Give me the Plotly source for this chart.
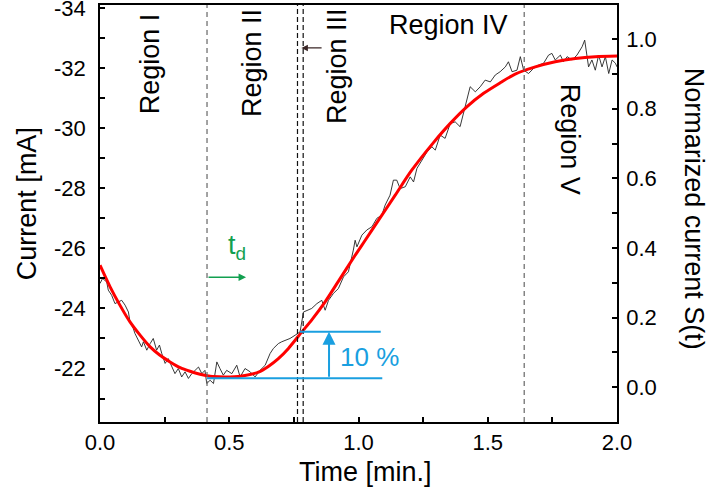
import plotly.graph_objects as go

# ---- data ----
fit_t = [0.000, 0.039, 0.077, 0.116, 0.155, 0.194, 0.232, 0.271, 0.310, 0.348, 0.387, 0.426,
         0.484, 0.503, 0.561, 0.613, 0.651, 0.690, 0.729, 0.781, 0.820, 0.871, 0.922, 0.987,
         1.026, 1.077, 1.142, 1.206, 1.290, 1.355, 1.419, 1.484, 1.548, 1.606, 1.684, 1.761,
         1.839, 1.916, 2.000]
fit_i = [-25.44, -24.72, -24.11, -23.55, -23.11, -22.72, -22.44, -22.22, -22.03, -21.91, -21.81, -21.74,
         -21.72, -21.72, -21.77, -21.88, -22.07, -22.33, -22.67, -23.22, -23.63, -24.22, -24.90, -25.77,
         -26.27, -26.93, -27.77, -28.60, -29.52, -30.16, -30.71, -31.16, -31.51, -31.80, -32.04, -32.21,
         -32.32, -32.38, -32.40]

meas_t = [0.000, 0.010, 0.026, 0.032, 0.045, 0.058, 0.071, 0.084, 0.097, 0.110, 0.116, 0.129,
          0.135, 0.148, 0.161, 0.168, 0.181, 0.194, 0.206, 0.219, 0.230, 0.239, 0.252, 0.264,
          0.277, 0.290, 0.303, 0.316, 0.329, 0.342, 0.355, 0.368, 0.381, 0.394, 0.406, 0.413,
          0.426, 0.439, 0.452, 0.464, 0.477, 0.490, 0.510, 0.529, 0.542, 0.561, 0.581, 0.600,
          0.619, 0.639, 0.658, 0.671, 0.690, 0.703, 0.716, 0.735, 0.755, 0.774, 0.787, 0.800,
          0.819, 0.839, 0.858, 0.871, 0.884, 0.903, 0.922, 0.942, 0.961, 0.980, 0.987, 0.994,
          1.013, 1.032, 1.052, 1.071, 1.090, 1.103, 1.122, 1.135, 1.148, 1.161, 1.181, 1.200,
          1.213, 1.226, 1.245, 1.265, 1.284, 1.297, 1.316, 1.335, 1.355, 1.374, 1.393, 1.413,
          1.432, 1.452, 1.471, 1.490, 1.510, 1.529, 1.548, 1.568, 1.580, 1.594, 1.613, 1.626,
          1.639, 1.658, 1.677, 1.697, 1.716, 1.735, 1.748, 1.761, 1.781, 1.793, 1.807, 1.826,
          1.845, 1.865, 1.875, 1.890, 1.903, 1.916, 1.929, 1.942, 1.955, 1.968, 1.981, 1.994, 2.000]
meas_i = [-24.83, -25.00, -24.88, -24.61, -24.44, -24.16, -24.22, -24.27, -24.11, -23.88, -23.55, -23.33,
          -23.17, -22.94, -22.72, -22.89, -22.61, -22.83, -23.00, -22.61, -22.78, -22.50, -22.17, -22.33,
          -22.05, -21.83, -22.00, -21.72, -21.89, -21.67, -21.83, -21.94, -22.05, -21.83, -21.94, -21.50,
          -21.61, -21.50, -22.22, -22.00, -21.78, -21.94, -21.83, -22.11, -21.72, -22.00, -21.89, -21.72,
          -21.94, -22.11, -22.50, -22.67, -22.83, -22.89, -22.94, -23.00, -23.11, -23.22, -23.88, -23.94,
          -24.00, -24.16, -24.27, -23.94, -24.27, -24.50, -24.66, -25.05, -25.22, -25.94, -26.27, -26.05,
          -26.44, -26.61, -26.72, -27.00, -27.10, -27.44, -27.77, -28.27, -28.27, -27.99, -28.05, -28.38,
          -28.21, -28.66, -28.94, -29.21, -29.38, -29.27, -29.77, -29.66, -30.16, -30.21, -30.05, -30.71,
          -31.38, -31.21, -31.38, -31.60, -31.54, -31.77, -31.88, -32.04, -32.21, -31.88, -31.93, -32.38,
          -31.93, -31.82, -31.99, -32.10, -32.16, -32.43, -32.49, -32.27, -32.43, -32.21, -32.38, -32.27,
          -32.43, -32.71, -32.93, -32.04, -32.27, -31.93, -32.43, -32.04, -32.38, -31.82, -32.27, -32.16, -32.04]

region_names = ["Region I", "Region II", "Region III", "Region IV", "Region V"]
region_t = [0.194, 0.588, 0.917, 1.347, 1.819]
region_i = [-32.13, -32.17, -32.07, -33.43, -29.64]
region_angle = [-90, -90, -90, 0, 90]

gray_lines = [0.414, 1.641]
black_lines = [0.764, 0.786]

base_i = -21.68        # 10 % baseline
top_i = -23.22         # 10 % level
base_t = [0.414, 1.092]
top_t = [0.774, 1.086]
arrow10_t = 0.886
label10 = "10 %"
label10_t, label10_i = 1.041, -22.38

td_t0, td_t1, td_i = 0.414, 0.565, -25.04
td_label_t, td_label_i = 0.53, -26.05

small_arrow_t0, small_arrow_t1, small_arrow_i = 0.863, 0.779, -32.67

xticks = [0.0, 0.5, 1.0, 1.5, 2.0]
yticks_left = [-34, -32, -30, -28, -26, -24, -22]
yticks_right = [0.0, 0.2, 0.4, 0.6, 0.8, 1.0]

FONT = "Arial, Liberation Sans, sans-serif"
BLUE = "#1A9FE0"
GREEN = "#12A050"

fig = go.Figure()
fig.add_trace(go.Scatter(x=meas_t, y=meas_i, mode="lines",
                         line=dict(color="#222222", width=0.9), showlegend=False))
fig.add_trace(go.Scatter(x=fit_t, y=fit_i, mode="lines", line_shape="spline",
                         line=dict(color="#FF0000", width=3, smoothing=0.8), showlegend=False))
# helper trace so the right axis is drawn
fig.add_trace(go.Scatter(x=[xticks[0]], y=[yticks_right[0]], yaxis="y2", mode="markers",
                         marker=dict(opacity=0), showlegend=False, hoverinfo="skip"))

shapes = []
for xv in gray_lines:
    shapes.append(dict(type="line", xref="x", yref="paper", x0=xv, x1=xv, y0=0, y1=1,
                       line=dict(color="#666666", width=1.2, dash="5px,4px")))
for xv in black_lines:
    shapes.append(dict(type="line", xref="x", yref="paper", x0=xv, x1=xv, y0=0, y1=1,
                       line=dict(color="#111111", width=1.2, dash="5px,3px")))
shapes.append(dict(type="line", xref="x", yref="y", x0=base_t[0], x1=base_t[1], y0=base_i, y1=base_i,
                   line=dict(color=BLUE, width=2)))
shapes.append(dict(type="line", xref="x", yref="y", x0=top_t[0], x1=top_t[1], y0=top_i, y1=top_i,
                   line=dict(color=BLUE, width=2)))

ann = []
for name, t, i, a in zip(region_names, region_t, region_i, region_angle):
    ann.append(dict(x=t, y=i, xref="x", yref="y", text=name, showarrow=False, textangle=a,
                    xanchor="center", yanchor="middle",
                    font=dict(family=FONT, size=27, color="black")))
ann.append(dict(x=arrow10_t, y=top_i, ax=arrow10_t, ay=base_i, xref="x", yref="y",
                axref="x", ayref="y", text="", showarrow=True, arrowhead=2, arrowsize=1.3,
                arrowwidth=2, arrowcolor=BLUE, standoff=0))
ann.append(dict(x=label10_t, y=label10_i, xref="x", yref="y", text=label10, showarrow=False,
                xanchor="center", yanchor="middle",
                font=dict(family=FONT, size=26, color=BLUE)))
ann.append(dict(x=td_t1, y=td_i, ax=td_t0, ay=td_i, xref="x", yref="y", axref="x", ayref="y",
                text="", showarrow=True, arrowhead=2, arrowsize=1, arrowwidth=1.5,
                arrowcolor=GREEN, standoff=0))
ann.append(dict(x=td_label_t, y=td_label_i, xref="x", yref="y", text="t<sub>d</sub>",
                showarrow=False, xanchor="center", yanchor="middle",
                font=dict(family=FONT, size=27, color=GREEN)))
ann.append(dict(x=small_arrow_t1, y=small_arrow_i, ax=small_arrow_t0, ay=small_arrow_i,
                xref="x", yref="y", axref="x", ayref="y", text="", showarrow=True,
                arrowhead=2, arrowsize=1, arrowwidth=1.3, arrowcolor="#3a2626", standoff=0))
# axis titles
ann.append(dict(x=-0.1412, y=0.5248, xref="paper", yref="paper", text="Current [mA]",
                xanchor="center", yanchor="middle",
                showarrow=False, textangle=-90, font=dict(family=FONT, size=27, color="black")))
ann.append(dict(x=1.149, y=0.5116, xref="paper", yref="paper", text="Normarized current S(t)",
                xanchor="center", yanchor="middle",
                showarrow=False, textangle=90, font=dict(family=FONT, size=27, color="black")))
ann.append(dict(x=0.5145, y=-0.1207, xref="paper", yref="paper", text="Time [min.]",
                xanchor="center", yanchor="middle",
                showarrow=False, font=dict(family=FONT, size=27, color="black")))

axis_common = dict(showgrid=False, zeroline=False, showline=True, linecolor="black", linewidth=1.5,
                   ticks="inside", ticklen=5, tickwidth=1.5, tickcolor="black", automargin=False,
                   ticklabeloverflow="allow",
                   tickfont=dict(family=FONT, size=22, color="black"))

fig.update_layout(
    width=709, height=495,
    margin=dict(l=100, r=92, t=5, b=73, autoexpand=False),
    plot_bgcolor="white", paper_bgcolor="white",
    showlegend=False,
    shapes=shapes, annotations=ann,
    xaxis=dict(range=[0, 2], tickvals=xticks, ticktext=[f"{v:.1f}" for v in xticks],
               mirror=True, minor=dict(dtick=0.25, ticks="inside", ticklen=5, tickwidth=1.5,
                                       tickcolor="black"),
               ticklabelstandoff=0, **axis_common),
    yaxis=dict(range=[-20.22, -34.1], tickvals=yticks_left, ticktext=[str(v) for v in yticks_left],
               minor=dict(dtick=1, ticks="inside", ticklen=5, tickwidth=1.5, tickcolor="black"),
               ticklabelstandoff=8, **axis_common),
    yaxis2=dict(range=[-0.0997, 1.0977], overlaying="y", side="right",
                tickvals=yticks_right, ticktext=[f"{v:.1f}" for v in yticks_right],
                minor=dict(dtick=0.1, ticks="inside", ticklen=5, tickwidth=1.5, tickcolor="black"),
                ticklabelstandoff=3, **axis_common),
)

fig.write_html("out.html", config={"displayModeBar": False},
               post_script="document.body.style.margin='0';")
